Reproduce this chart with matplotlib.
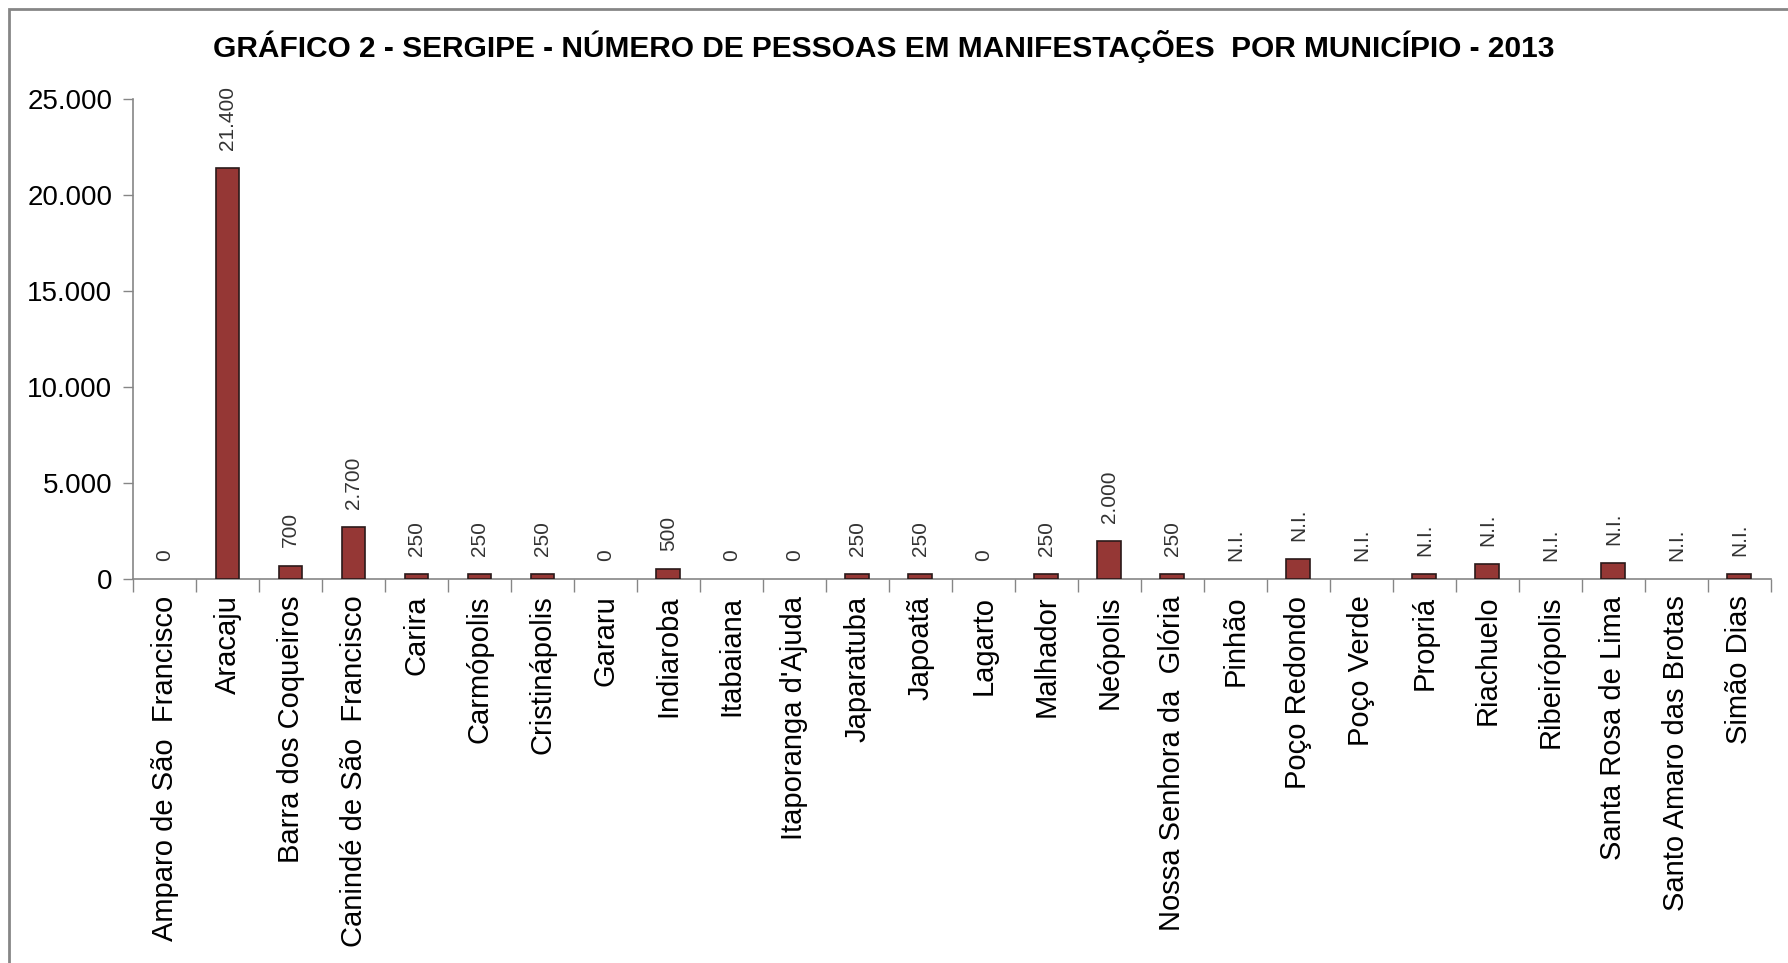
import numpy as np
import matplotlib.pyplot as plt
from matplotlib.patches import Rectangle
from matplotlib.ticker import FuncFormatter

plt.rcParams['font.family'] = ['Liberation Sans', 'DejaVu Sans']

# municipios e numero de pessoas
municipios = ["Amparo de São  Francisco", "Aracaju", "Barra dos Coqueiros",
              "Canindé de São  Francisco", "Carira", "Carmópolis", "Cristinápolis",
              "Gararu", "Indiaroba", "Itabaiana", "Itaporanga d'Ajuda", "Japaratuba",
              "Japoatã", "Lagarto", "Malhador", "Neópolis", "Nossa Senhora da  Glória",
              "Pinhão", "Poço Redondo", "Poço Verde", "Propriá", "Riachuelo",
              "Ribeirópolis", "Santa Rosa de Lima", "Santo Amaro das Brotas", "Simão Dias"]
pessoas = [0, 21400, 700, 2700, 250, 250, 250, 0, 500, 0, 0, 250, 250, 0, 250,
           2000, 250, 0, 1050, 0, 250, 780, 0, 850, 0, 250]
rotulos = ["0", "21.400", "700", "2.700", "250", "250", "250", "0", "500", "0", "0",
           "250", "250", "0", "250", "2.000", "250", "N.I.", "N.I.", "N.I.", "N.I.",
           "N.I.", "N.I.", "N.I.", "N.I.", "N.I."]
yticks = [0, 5000, 10000, 15000, 20000, 25000]

fig = plt.figure(figsize=(17.88, 9.63), dpi=100)
ax = fig.add_axes([0.0744, 0.3988, 0.916, 0.4983])

x = np.arange(len(municipios))
lw = [1.2 if v > 0 else 0 for v in pessoas]
ax.bar(x, pessoas, width=0.38, color='#953735', edgecolor='#2b1a1a', linewidth=lw, zorder=3)

for xi, v, r in zip(x, pessoas, rotulos):
    ax.annotate(r, (xi, v), xytext=(0, 13), textcoords='offset points',
                rotation=90, ha='center', va='bottom', fontsize=15, color='#333333')

ax.set_xlim(-0.5, len(municipios) - 0.5)
ax.set_ylim(0, 25000)
ax.set_yticks(yticks)
ax.yaxis.set_major_formatter(FuncFormatter(lambda v, p: f"{int(v):,}".replace(",", ".")))
ax.tick_params(axis='y', labelsize=20, length=7, width=1, color='#868686', pad=8)

# rotulos das categorias e marcas entre elas
ax.set_xticks(x)
ax.set_xticklabels(municipios, rotation=90, fontsize=21)
ax.set_xticks(np.arange(len(municipios) + 1) - 0.5, minor=True)
ax.tick_params(axis='x', which='major', length=0, pad=12)
ax.tick_params(axis='x', which='minor', length=9, width=1, color='#868686')

for s in ['top', 'right']:
    ax.spines[s].set_visible(False)
for s in ['left', 'bottom']:
    ax.spines[s].set_color('#868686')
    ax.spines[s].set_linewidth(1.2)

fig.text(0.494, 0.952, "GRÁFICO 2 - SERGIPE - NÚMERO DE PESSOAS EM MANIFESTAÇÕES  POR MUNICÍPIO - 2013",
         ha='center', va='center', fontsize=21.5, fontweight='bold')

# moldura do grafico
fig.patches.append(Rectangle((9 / 1788, -0.1), 1.2, (963 - 9) / 963 + 0.1,
                             transform=fig.transFigure, fill=False,
                             edgecolor='#868686', linewidth=2))

fig.savefig('out.png', dpi=100)
